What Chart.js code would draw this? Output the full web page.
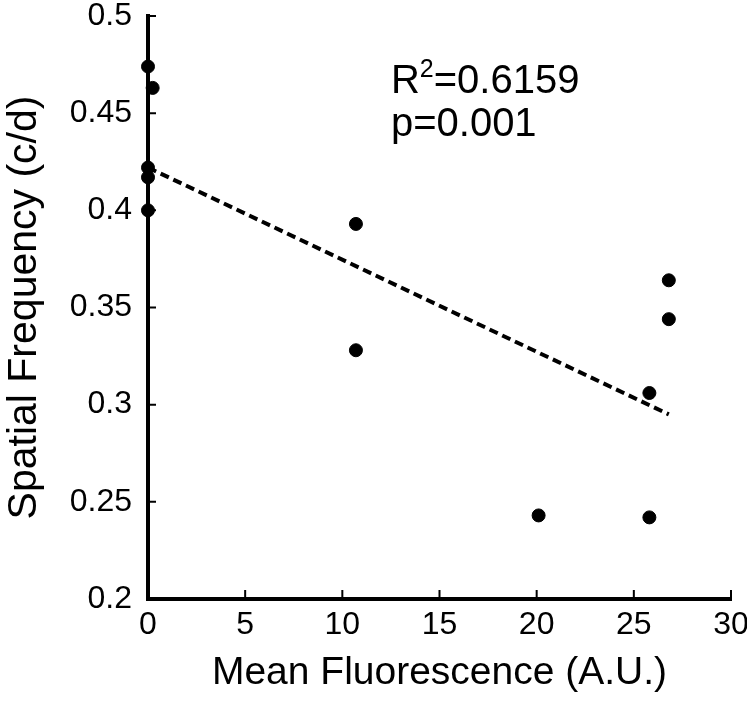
<!DOCTYPE html>
<html>
<head>
<meta charset="utf-8">
<script src="https://cdn.jsdelivr.net/npm/chart.js@4.4.1/dist/chart.umd.min.js"></script>
<style>
  html, body { margin: 0; padding: 0; background: #fff; }
  #wrap { width: 747px; height: 703px; }
</style>
</head>
<body>
<div id="wrap"><canvas id="chart" width="747" height="703"></canvas></div>
<script>
// measured points: mean fluorescence vs spatial frequency
const fluorescence = [0, 0.24, 0, 0, 0, 10.7, 10.7, 20.1, 25.8, 25.8, 26.8, 26.8];
const spatialFreq  = [0.474, 0.463, 0.422, 0.417, 0.400, 0.393, 0.328, 0.243, 0.306, 0.242, 0.364, 0.344];

// regression line end points
const fitX = [0, 26.8];
const fitY = [0.422, 0.295];

const xTicks = [0, 5, 10, 15, 20, 25, 30];
const yTicks = [0.2, 0.25, 0.3, 0.35, 0.4, 0.45, 0.5];

const FONT = "'Liberation Sans', Arial, Helvetica, sans-serif";

/**
 * Ticks point into the plot area, so draw them by hand
 */
const innerTicks = {
  id: "innerTicks",
  afterDraw(chart) {
    const { ctx, chartArea, scales } = chart;
    ctx.save();
    ctx.strokeStyle = "#000";
    ctx.lineWidth = 2;
    ctx.beginPath();
    for (const v of xTicks) {
      const px = scales.x.getPixelForValue(v);
      ctx.moveTo(px, chartArea.bottom);
      ctx.lineTo(px, chartArea.bottom - 9);
    }
    for (const v of yTicks) {
      const py = scales.y.getPixelForValue(v);
      ctx.moveTo(chartArea.left, py);
      ctx.lineTo(chartArea.left + 8, py);
    }
    ctx.stroke();
    ctx.restore();
  },
};

/**
 * R² / p annotation
 */
const statsLabel = {
  id: "statsLabel",
  afterDraw(chart) {
    const { ctx, scales } = chart;
    const x0 = scales.x.getPixelForValue(12.5);
    const y1 = scales.y.getPixelForValue(0.4605);
    const y2 = scales.y.getPixelForValue(0.4385);
    ctx.save();
    ctx.fillStyle = "#000";
    ctx.textBaseline = "alphabetic";
    ctx.font = `40px ${FONT}`;
    ctx.fillText("R", x0, y1);
    let w = ctx.measureText("R").width;
    ctx.font = `25px ${FONT}`;
    ctx.fillText("2", x0 + w, y1 - 16);
    w += ctx.measureText("2").width;
    ctx.font = `40px ${FONT}`;
    ctx.fillText("=0.6159", x0 + w, y1);
    ctx.fillText("p=0.001", x0, y2);
    ctx.restore();
  },
};

new Chart(document.getElementById("chart"), {
  type: "scatter",
  data: {
    datasets: [
      {
        label: "fit",
        type: "line",
        data: fitX.map((x, i) => ({ x, y: fitY[i] })),
        borderColor: "#000",
        borderWidth: 4,
        borderDash: [9, 5],
        pointRadius: 0,
        fill: false,
        clip: false,
      },
      {
        label: "data",
        data: fluorescence.map((x, i) => ({ x, y: spatialFreq[i] })),
        backgroundColor: "#000",
        borderColor: "#000",
        pointRadius: 6.5,
        pointHoverRadius: 6.5,
        clip: false,
      },
    ],
  },
  options: {
    responsive: false,
    animation: false,
    events: [],
    layout: { padding: 0, autoPadding: false },
    plugins: { legend: { display: false }, tooltip: { enabled: false } },
    scales: {
      x: {
        type: "linear",
        min: 0,
        max: 30,
        afterBuildTicks: (s) => { s.ticks = xTicks.map((v) => ({ value: v })); },
        afterFit: (s) => {
          s.height = 104;
          s.paddingLeft = 0;
          s.paddingRight = 16;
        },
        border: { display: true, color: "#000", width: 4 },
        grid: { display: false, drawTicks: false },
        ticks: { color: "#000", padding: 10, font: { family: FONT, size: 32, lineHeight: 1 }, maxRotation: 0 },
        title: {
          display: true,
          text: "Mean Fluorescence (A.U.)",
          color: "#000",
          font: { family: FONT, size: 39 },
          padding: { top: 14, bottom: 6 },
        },
      },
      y: {
        type: "linear",
        min: 0.2,
        max: 0.5,
        afterBuildTicks: (s) => { s.ticks = yTicks.map((v) => ({ value: v })); },
        afterFit: (s) => {
          s.width = 148;
          s.paddingTop = 16;
          s.paddingBottom = 0;
        },
        border: { display: true, color: "#000", width: 4 },
        grid: { display: false, drawTicks: false },
        ticks: {
          color: "#000",
          padding: 16,
          font: { family: FONT, size: 32, lineHeight: 1 },
          callback: (v) => String(v),
        },
        title: {
          display: true,
          text: "Spatial Frequency (c/d)",
          color: "#000",
          font: { family: FONT, size: 41 },
          padding: { top: 0, bottom: 0 },
        },
      },
    },
  },
  plugins: [innerTicks, statsLabel],
});
</script>
</body>
</html>
